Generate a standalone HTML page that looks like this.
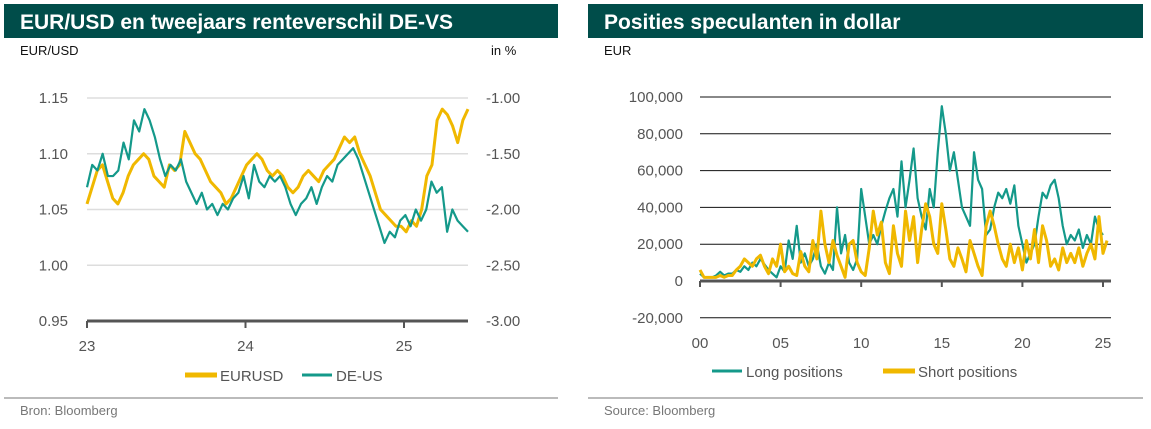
<!DOCTYPE html>
<html><head><meta charset="utf-8"><style>
body{margin:0;width:1151px;height:429px;background:#fff;overflow:hidden;font-family:"Liberation Sans",sans-serif}
svg{position:absolute;left:0;top:0}
</style></head><body>
<svg width="1151" height="429">
<g id="left">
<rect x="4" y="4" width="554" height="34" fill="#004d4a"/>
<text x="20" y="29" fill="#fff" font-size="21" font-weight="bold">EUR/USD en tweejaars renteverschil DE-VS</text>
<text x="20" y="55" font-size="13" fill="#111">EUR/USD</text>
<text x="491" y="55" font-size="13" fill="#111">in %</text>
<g id="lgrid"></g><g id="llines"></g>
<line x1="185" y1="375" x2="217" y2="375" stroke="#f0b800" stroke-width="5"/>
<text x="220" y="381" font-size="15" fill="#555">EURUSD</text>
<line x1="302" y1="375" x2="332" y2="375" stroke="#14998a" stroke-width="3"/>
<text x="336" y="381" font-size="15" fill="#555">DE-US</text>
<line x1="4" y1="398" x2="558" y2="398" stroke="#bbb" stroke-width="2"/>
<text x="20" y="415" font-size="13" fill="#777">Bron: Bloomberg</text>
</g>
<g id="right">
<rect x="588" y="4" width="555" height="34" fill="#004d4a"/>
<text x="604" y="29" fill="#fff" font-size="21" font-weight="bold">Posities speculanten in dollar</text>
<text x="604" y="55" font-size="13" fill="#111">EUR</text>
<g id="rgrid"></g><g id="rlines"></g>
<line x1="712" y1="371" x2="742" y2="371" stroke="#14998a" stroke-width="3"/>
<text x="746" y="377" font-size="15" fill="#555">Long positions</text>
<line x1="883" y1="371" x2="915" y2="371" stroke="#f0b800" stroke-width="5"/>
<text x="918" y="377" font-size="15" fill="#555">Short positions</text>
<line x1="588" y1="398" x2="1143" y2="398" stroke="#bbb" stroke-width="2"/>
<text x="604" y="415" font-size="13" fill="#777">Source: Bloomberg</text>
</g>
</svg>
<script>
const NS="http://www.w3.org/2000/svg";
const leftTicks=[1.15,1.10,1.05,1.00,0.95];
const rightTicks=[-1.00,-1.50,-2.00,-2.50,-3.00];
const leftYears=["23","24","25"];
const eurusd=[1.055,1.07,1.085,1.09,1.075,1.06,1.055,1.065,1.08,1.09,1.095,1.10,1.095,1.08,1.075,1.07,1.09,1.085,1.09,1.12,1.11,1.10,1.095,1.085,1.075,1.07,1.065,1.055,1.06,1.07,1.08,1.09,1.095,1.10,1.095,1.085,1.08,1.085,1.08,1.07,1.065,1.07,1.08,1.085,1.08,1.075,1.085,1.09,1.095,1.105,1.115,1.11,1.115,1.10,1.09,1.08,1.065,1.05,1.045,1.04,1.035,1.035,1.03,1.04,1.035,1.05,1.08,1.09,1.13,1.14,1.135,1.125,1.11,1.13,1.14];
const deus=[-1.8,-1.6,-1.65,-1.5,-1.7,-1.7,-1.65,-1.4,-1.55,-1.2,-1.3,-1.1,-1.2,-1.35,-1.55,-1.7,-1.6,-1.65,-1.55,-1.75,-1.85,-1.95,-1.85,-2.0,-1.95,-2.05,-1.95,-2.0,-1.9,-1.85,-1.7,-1.9,-1.6,-1.75,-1.8,-1.7,-1.75,-1.7,-1.8,-1.95,-2.05,-1.95,-1.9,-1.8,-1.95,-1.8,-1.7,-1.75,-1.6,-1.55,-1.5,-1.45,-1.55,-1.7,-1.85,-2.0,-2.15,-2.3,-2.2,-2.25,-2.1,-2.05,-2.15,-2.0,-2.1,-2.0,-1.75,-1.85,-1.8,-2.2,-2.0,-2.1,-2.15,-2.2];
const posTicks=[100000,80000,60000,40000,20000,0,-20000];
const posYears=["00","05","10","15","20","25"];
const longPos=[4,2,2,2,3,5,3,4,4,6,5,8,6,10,8,12,9,6,4,2,8,5,22,12,30,10,15,8,12,20,8,4,10,6,40,15,25,10,6,12,50,35,20,25,20,30,38,45,50,35,65,40,55,72,45,35,28,50,40,70,95,80,60,70,55,40,35,30,70,55,50,25,28,40,48,45,50,42,52,30,20,10,15,20,35,48,45,52,55,45,30,20,25,22,28,18,25,20,35,28,25];
const shortPos=[6,2,2,2,2,3,2,3,3,6,8,12,10,8,12,14,8,4,12,8,20,5,8,4,3,16,8,5,22,12,38,20,10,22,14,8,2,20,22,10,5,3,18,38,25,32,10,4,30,15,8,38,22,35,10,28,42,35,20,15,42,28,12,8,18,12,5,22,15,8,3,30,38,30,20,12,8,20,10,18,6,22,12,28,10,30,22,8,12,6,18,10,15,10,18,8,15,20,12,35,15,22];

function el(p,t,a){const e=document.createElementNS(NS,t);for(const k in a)e.setAttribute(k,a[k]);p.appendChild(e);return e;}
const lx0=87,lx1=468,ly=v=>98+(1.15-v)/0.20*223,ry=v=>98+(-1.00-v)/2.0*223;
const lg=document.getElementById('lgrid');
leftTicks.forEach((t,i)=>{
 const y=ly(t);
 const g=el(lg,'line',{x1:lx0,x2:lx1,y1:y,y2:y,stroke:i==4?'#555':'#ddd','stroke-width':i==4?3:1.5});
 
 
 const tx=el(lg,'text',{x:68,y:y+5,'text-anchor':'end','font-size':15,fill:'#555'});tx.textContent=t.toFixed(2);
 
 
 const r=el(lg,'text',{x:486,y:ry(rightTicks[i])+5,'font-size':15,fill:'#555'});r.textContent=rightTicks[i].toFixed(2);
 
 
});
leftYears.forEach((y,i)=>{
 const xx=lx0+i*158.5;
 el(lg,'line',{x1:xx,x2:xx,y1:321,y2:328,stroke:'#555','stroke-width':2});
 const t=el(lg,'text',{x:xx,y:351,'text-anchor':'middle','font-size':15,fill:'#555'});t.textContent=y;
 
 
});
const lxs=(i,n)=>lx0+(i/(n-1))*(lx1-lx0);
const ll=document.getElementById('llines');
let p=el(ll,'polyline',{points:eurusd.map((v,i)=>lxs(i,eurusd.length)+','+ly(v)).join(' '),fill:'none',stroke:'#f0b800','stroke-width':3,'stroke-linejoin':'round'});


p=el(ll,'polyline',{points:deus.map((v,i)=>lxs(i,deus.length)+','+ry(v)).join(' '),fill:'none',stroke:'#14998a','stroke-width':2.2,'stroke-linejoin':'round'});


const px0=700,px1=1111,py=v=>281-(v/20000)*36.8,pxs=i=>px0+(i/4)/25*(1103-px0);
const rg=document.getElementById('rgrid');
posTicks.forEach(t=>{
 const y=py(t);
 const g=el(rg,'line',{x1:px0,x2:px1,y1:y,y2:y,stroke:t==0?'#555':'#111','stroke-width':t==0?3:1});
 
 
 const tx=el(rg,'text',{x:683,y:y+5,'text-anchor':'end','font-size':15,fill:'#555'});tx.textContent=t.toLocaleString('en-US');
 
 
});
posYears.forEach((y,i)=>{
 const x=px0+i*5/25*(1103-px0);
 el(rg,'line',{x1:x,x2:x,y1:281,y2:287,stroke:'#555','stroke-width':2});
 const t=el(rg,'text',{x:x,y:348,'text-anchor':'middle','font-size':15,fill:'#555'});t.textContent=y;
 
 
});
const rl=document.getElementById('rlines');
p=el(rl,'polyline',{points:longPos.map((v,i)=>pxs(i)+','+py(v*1000)).join(' '),fill:'none',stroke:'#14998a','stroke-width':2.2,'stroke-linejoin':'round'});


p=el(rl,'polyline',{points:shortPos.map((v,i)=>pxs(i)+','+py(v*1000)).join(' '),fill:'none',stroke:'#f0b800','stroke-width':3,'stroke-linejoin':'round'});


</script>
</body></html>
